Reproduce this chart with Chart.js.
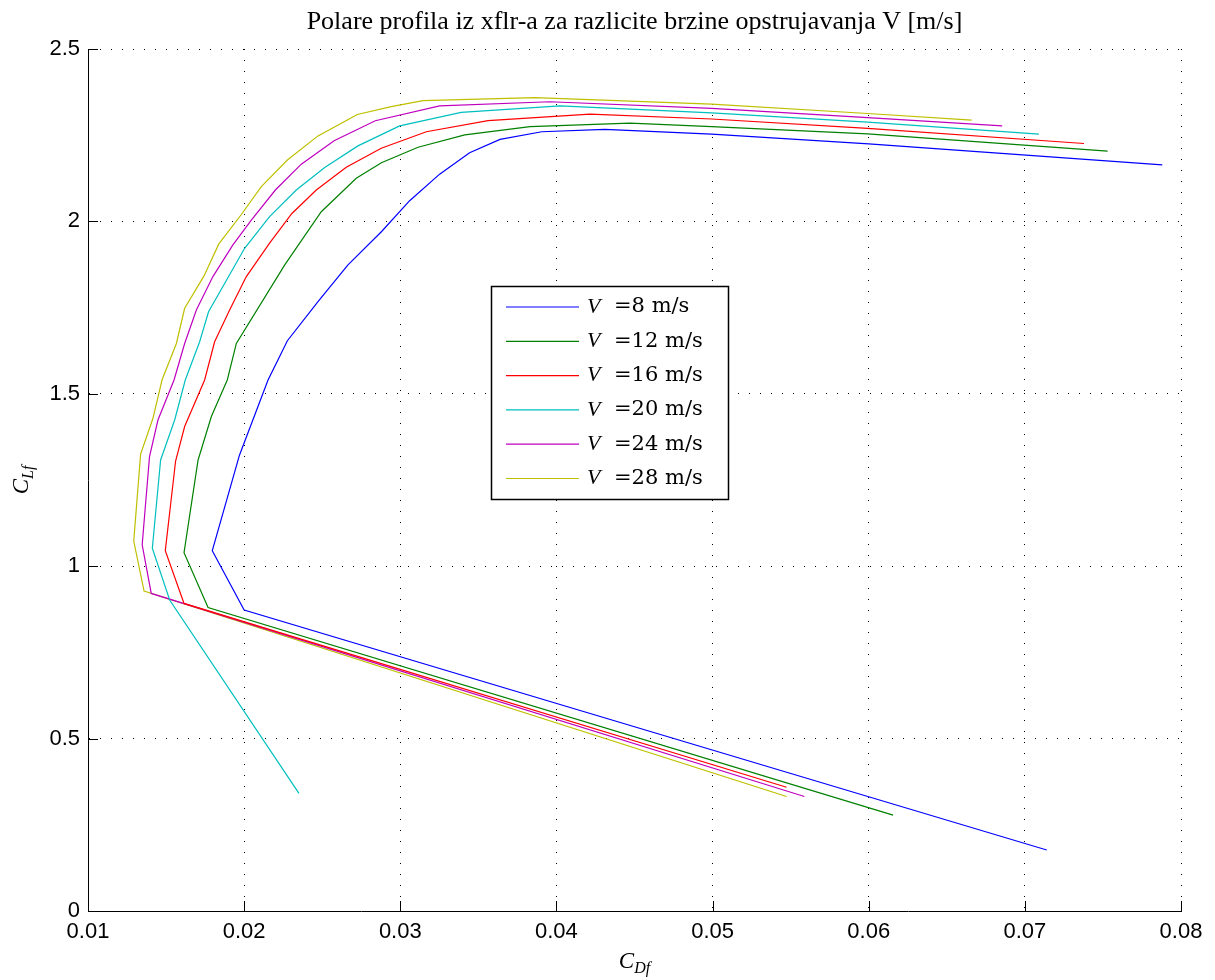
<!DOCTYPE html>
<html><head><meta charset="utf-8">
<script src="https://cdn.jsdelivr.net/npm/chart.js@4"></script>
<style>html,body{margin:0;padding:0;background:#fff}canvas{display:block}</style>
</head><body>
<canvas id="c" width="1215" height="980"></canvas>
<script>
const titleText = "Polare profila iz xflr-a za razlicite brzine opstrujavanja V [m/s]";
const speeds = [8, 12, 16, 20, 24, 28];
const seriesColors = ["#0000FF", "#008000", "#FF0000", "#00BFBF", "#BF00BF", "#BFBF00"];

const cdV8 = [0.0714, 0.0200, 0.01796, 0.0197, 0.02153, 0.02277, 0.02473, 0.02665, 0.02879, 0.0306, 0.03252, 0.03444, 0.03639, 0.03906, 0.0431, 0.04994, 0.0600, 0.0788];
const clV8 = [0.177, 0.873, 1.045, 1.322, 1.540, 1.654, 1.767, 1.874, 1.970, 2.060, 2.137, 2.199, 2.238, 2.260, 2.267, 2.253, 2.225, 2.164];

const cdV12 = [0.06156, 0.01769, 0.01615, 0.01705, 0.0179, 0.01892, 0.0195, 0.0226, 0.02494, 0.02718, 0.02879, 0.03114, 0.03413, 0.03831, 0.04471, 0.04994, 0.05993, 0.0753];
const clV12 = [0.278, 0.880, 1.039, 1.308, 1.434, 1.540, 1.646, 1.874, 2.028, 2.125, 2.170, 2.215, 2.251, 2.275, 2.285, 2.275, 2.254, 2.204];

const cdV16 = [0.05474, 0.01615, 0.01495, 0.01561, 0.01619, 0.01747, 0.01811, 0.01907, 0.02014, 0.02163, 0.02306, 0.02462, 0.02654, 0.02878, 0.03167, 0.03562, 0.04215, 0.04994, 0.05993, 0.07379];
const clV16 = [0.359, 0.892, 1.045, 1.305, 1.405, 1.540, 1.651, 1.743, 1.840, 1.937, 2.023, 2.091, 2.157, 2.212, 2.260, 2.292, 2.311, 2.297, 2.270, 2.226];

const cdV20 = [0.02351, 0.01523, 0.01412, 0.01465, 0.01555, 0.01623, 0.01715, 0.01772, 0.01875, 0.02003, 0.02163, 0.02334, 0.02516, 0.02729, 0.02996, 0.0339, 0.04023, 0.04994, 0.05993, 0.0709];
const clV20 = [0.341, 0.902, 1.052, 1.308, 1.424, 1.540, 1.651, 1.738, 1.820, 1.922, 2.014, 2.091, 2.156, 2.219, 2.277, 2.316, 2.335, 2.315, 2.288, 2.253];

const cdV24 = [0.05588, 0.01405, 0.01347, 0.01394, 0.01448, 0.01551, 0.01619, 0.01694, 0.0180, 0.01928, 0.02046, 0.0220, 0.02366, 0.02576, 0.0284, 0.03252, 0.03959, 0.04994, 0.05993, 0.06855];
const clV24 = [0.332, 0.921, 1.062, 1.318, 1.424, 1.540, 1.646, 1.743, 1.840, 1.932, 2.004, 2.091, 2.166, 2.234, 2.292, 2.335, 2.347, 2.328, 2.301, 2.277];

const cdV28 = [0.05474, 0.01359, 0.01293, 0.01337, 0.01416, 0.01474, 0.01566, 0.01619, 0.01743, 0.01837, 0.01982, 0.0211, 0.02277, 0.02473, 0.02725, 0.02942, 0.03145, 0.03863, 0.04994, 0.05993, 0.06659];
const clV28 = [0.332, 0.928, 1.073, 1.325, 1.429, 1.540, 1.646, 1.748, 1.842, 1.934, 2.020, 2.101, 2.178, 2.248, 2.310, 2.333, 2.350, 2.359, 2.340, 2.313, 2.294];

const xTicks = [0.01, 0.02, 0.03, 0.04, 0.05, 0.06, 0.07, 0.08];
const xTickLabels = ["0.01", "0.02", "0.03", "0.04", "0.05", "0.06", "0.07", "0.08"];
const yTicks = [0, 0.5, 1, 1.5, 2, 2.5];
const yTickLabels = ["0", "0.5", "1", "1.5", "2", "2.5"];

const cdAll = [cdV8, cdV12, cdV16, cdV20, cdV24, cdV28];
const clAll = [clV8, clV12, clV16, clV20, clV24, clV28];

const datasets = speeds.map((v, i) => ({
  label: "=" + v + " m/s",
  data: cdAll[i].map((cd, k) => ({ x: cd, y: clAll[i][k] })),
  borderColor: seriesColors[i],
  backgroundColor: seriesColors[i],
  borderWidth: 1.2,
  showLine: true,
  pointRadius: 0,
  tension: 0,
  fill: false
}));

const SERIF = '"Liberation Serif", "DejaVu Serif", serif';
const LEGSERIF = '"DejaVu Serif", "Liberation Serif", serif';
const SANS = '"Liberation Sans", Arial, sans-serif';

function drawSubLabel(ctx, main, sub, cx, baseline) {
  ctx.font = "italic 23px " + SERIF;
  const w1 = ctx.measureText(main).width;
  ctx.font = "italic 16px " + SERIF;
  const w2 = ctx.measureText(sub).width;
  const x0 = cx - (w1 + w2) / 2;
  ctx.textAlign = "left";
  ctx.textBaseline = "alphabetic";
  ctx.font = "italic 23px " + SERIF;
  ctx.fillText(main, x0, baseline);
  ctx.font = "italic 16px " + SERIF;
  ctx.fillText(sub, x0 + w1, baseline + 5);
}

const overlay = {
  id: "overlay",
  afterDraw(chart) {
    const { ctx, chartArea: a, scales: { x, y } } = chart;
    ctx.save();
    ctx.strokeStyle = "#000";
    ctx.lineWidth = 1;
    xTicks.forEach(v => {
      const px = Math.round(x.getPixelForValue(v)) + 0.5;
      ctx.beginPath(); ctx.moveTo(px, a.bottom); ctx.lineTo(px, a.bottom - 10); ctx.stroke();
    });
    yTicks.forEach(v => {
      const py = Math.round(y.getPixelForValue(v)) + 0.5;
      ctx.beginPath(); ctx.moveTo(a.left, py); ctx.lineTo(a.left + 10, py); ctx.stroke();
    });
    ctx.fillStyle = "#000";
    let fs = 22;
    ctx.font = fs + "px " + SERIF;
    const tw = ctx.measureText(titleText).width;
    fs = Math.max(18, Math.min(26, fs * 674 / tw));
    ctx.font = fs.toFixed(2) + "px " + SERIF;
    ctx.textAlign = "center";
    ctx.textBaseline = "middle";
    ctx.fillText(titleText, (a.left + a.right) / 2, 22);
    drawSubLabel(ctx, "C", "Df", (a.left + a.right) / 2, 968);
    ctx.save();
    ctx.translate(28, 480);
    ctx.rotate(-Math.PI / 2);
    drawSubLabel(ctx, "C", "Lf", 0, 0);
    ctx.restore();
    const lx = 491.5, ly = 286.5, lw = 237, lh = 213;
    ctx.fillStyle = "#fff";
    ctx.fillRect(lx, ly, lw, lh);
    ctx.strokeStyle = "#000";
    ctx.lineWidth = 1.5;
    ctx.strokeRect(lx, ly, lw, lh);
    chart.data.datasets.forEach((ds, i) => {
      const ry = 307 + i * 34.3;
      ctx.strokeStyle = ds.borderColor;
      ctx.lineWidth = 1.2;
      ctx.beginPath(); ctx.moveTo(506, ry); ctx.lineTo(579, ry); ctx.stroke();
      ctx.fillStyle = "#000";
      ctx.textAlign = "left";
      ctx.textBaseline = "middle";
      ctx.font = "italic 22px " + SERIF;
      ctx.fillText("V", 587, ry);
      ctx.font = "21px " + LEGSERIF;
      ctx.fillText(ds.label, 614, ry);
    });
    ctx.restore();
  }
};

new Chart(document.getElementById("c"), {
  type: "scatter",
  data: { datasets },
  options: {
    responsive: false,
    animation: false,
    devicePixelRatio: 1,
    layout: { padding: { top: 49, right: 34, left: 0, bottom: 0 } },
    plugins: { legend: { display: false }, title: { display: false }, tooltip: { enabled: false } },
    scales: {
      x: {
        type: "linear", min: 0.01, max: 0.08,
        afterBuildTicks: s => { s.ticks = xTicks.map(v => ({ value: v })); },
        afterFit: s => { s.height = 69; },
        ticks: { callback: (v, i) => xTickLabels[i], font: { family: SANS, size: 22 }, color: "#000", padding: 8, maxRotation: 0, autoSkip: false },
        grid: { color: "#000", lineWidth: 1, drawTicks: false },
        border: { display: true, color: "#000", width: 1, dash: [1, 10] }
      },
      y: {
        type: "linear", min: 0, max: 2.5,
        afterBuildTicks: s => { s.ticks = yTicks.map(v => ({ value: v })); },
        afterFit: s => { s.width = 88; },
        ticks: { callback: (v, i) => yTickLabels[i], font: { family: SANS, size: 22 }, color: "#000", padding: 8, autoSkip: false },
        grid: { color: "#000", lineWidth: 1, drawTicks: false },
        border: { display: true, color: "#000", width: 1, dash: [1, 10] }
      }
    }
  },
  plugins: [overlay]
});
</script>
</body></html>
